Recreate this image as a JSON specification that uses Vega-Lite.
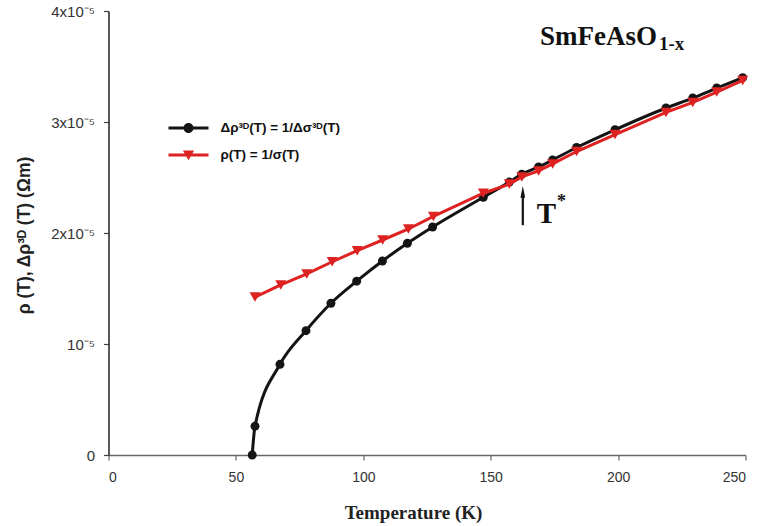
{
  "$schema": "https://vega.github.io/schema/vega-lite/v6.json",
  "autosize": {"type": "none"},
  "width": 637,
  "height": 444,
  "padding": {"left": 108.5, "top": 11, "right": 13.5, "bottom": 71},
  "background": "white",
  "config": {"view": {"stroke": null}},
  "datasets": {
    "curves": [
      {"T": 56.4, "rho": 0, "series": "Δρ³ᴰ(T) = 1/Δσ³ᴰ(T)"},
      {"T": 57.5, "rho": 0.26e-5, "series": "Δρ³ᴰ(T) = 1/Δσ³ᴰ(T)"},
      {"T": 67.3, "rho": 0.817e-5, "series": "Δρ³ᴰ(T) = 1/Δσ³ᴰ(T)"},
      {"T": 77.5, "rho": 1.12e-5, "series": "Δρ³ᴰ(T) = 1/Δσ³ᴰ(T)"},
      {"T": 87.3, "rho": 1.367e-5, "series": "Δρ³ᴰ(T) = 1/Δσ³ᴰ(T)"},
      {"T": 97.4, "rho": 1.566e-5, "series": "Δρ³ᴰ(T) = 1/Δσ³ᴰ(T)"},
      {"T": 107.5, "rho": 1.748e-5, "series": "Δρ³ᴰ(T) = 1/Δσ³ᴰ(T)"},
      {"T": 117.3, "rho": 1.907e-5, "series": "Δρ³ᴰ(T) = 1/Δσ³ᴰ(T)"},
      {"T": 127.2, "rho": 2.054e-5, "series": "Δρ³ᴰ(T) = 1/Δσ³ᴰ(T)"},
      {"T": 147.1, "rho": 2.322e-5, "series": "Δρ³ᴰ(T) = 1/Δσ³ᴰ(T)"},
      {"T": 157.3, "rho": 2.459e-5, "series": "Δρ³ᴰ(T) = 1/Δσ³ᴰ(T)"},
      {"T": 162.2, "rho": 2.53e-5, "series": "Δρ³ᴰ(T) = 1/Δσ³ᴰ(T)"},
      {"T": 168.8, "rho": 2.595e-5, "series": "Δρ³ᴰ(T) = 1/Δσ³ᴰ(T)"},
      {"T": 174.3, "rho": 2.658e-5, "series": "Δρ³ᴰ(T) = 1/Δσ³ᴰ(T)"},
      {"T": 183.7, "rho": 2.77e-5, "series": "Δρ³ᴰ(T) = 1/Δσ³ᴰ(T)"},
      {"T": 198.8, "rho": 2.93e-5, "series": "Δρ³ᴰ(T) = 1/Δσ³ᴰ(T)"},
      {"T": 218.8, "rho": 3.126e-5, "series": "Δρ³ᴰ(T) = 1/Δσ³ᴰ(T)"},
      {"T": 229.3, "rho": 3.216e-5, "series": "Δρ³ᴰ(T) = 1/Δσ³ᴰ(T)"},
      {"T": 238.7, "rho": 3.306e-5, "series": "Δρ³ᴰ(T) = 1/Δσ³ᴰ(T)"},
      {"T": 248.9, "rho": 3.40e-5, "series": "Δρ³ᴰ(T) = 1/Δσ³ᴰ(T)"},
      {"T": 57.5, "rho": 1.423e-5, "series": "ρ(T) = 1/σ(T)"},
      {"T": 67.6, "rho": 1.532e-5, "series": "ρ(T) = 1/σ(T)"},
      {"T": 77.8, "rho": 1.631e-5, "series": "ρ(T) = 1/σ(T)"},
      {"T": 87.8, "rho": 1.741e-5, "series": "ρ(T) = 1/σ(T)"},
      {"T": 97.6, "rho": 1.841e-5, "series": "ρ(T) = 1/σ(T)"},
      {"T": 107.6, "rho": 1.937e-5, "series": "ρ(T) = 1/σ(T)"},
      {"T": 117.7, "rho": 2.036e-5, "series": "ρ(T) = 1/σ(T)"},
      {"T": 127.5, "rho": 2.149e-5, "series": "ρ(T) = 1/σ(T)"},
      {"T": 147.1, "rho": 2.358e-5, "series": "ρ(T) = 1/σ(T)"},
      {"T": 157.3, "rho": 2.441e-5, "series": "ρ(T) = 1/σ(T)"},
      {"T": 162.2, "rho": 2.505e-5, "series": "ρ(T) = 1/σ(T)"},
      {"T": 168.8, "rho": 2.559e-5, "series": "ρ(T) = 1/σ(T)"},
      {"T": 174.3, "rho": 2.622e-5, "series": "ρ(T) = 1/σ(T)"},
      {"T": 183.7, "rho": 2.734e-5, "series": "ρ(T) = 1/σ(T)"},
      {"T": 198.8, "rho": 2.887e-5, "series": "ρ(T) = 1/σ(T)"},
      {"T": 218.8, "rho": 3.086e-5, "series": "ρ(T) = 1/σ(T)"},
      {"T": 229.3, "rho": 3.176e-5, "series": "ρ(T) = 1/σ(T)"},
      {"T": 238.7, "rho": 3.27e-5, "series": "ρ(T) = 1/σ(T)"},
      {"T": 248.9, "rho": 3.374e-5, "series": "ρ(T) = 1/σ(T)"}
    ]
  },
  "encoding": {
    "x": {
      "field": "T", "type": "quantitative",
      "scale": {"domain": [0, 250], "nice": false, "zero": false},
      "axis": {
        "title": "Temperature (K)",
        "values": [0, 50, 100, 150, 200, 250],
        "grid": false,
        "domainColor": "#666666", "domainWidth": 1.5,
        "tickColor": "#666666", "tickSize": 5, "tickWidth": 1.2,
        "labelFont": "Liberation Sans", "labelFontSize": 14, "labelColor": "#333333",
        "labelPadding": 10,
        "titleFont": "Liberation Serif", "titleFontSize": 19, "titleFontWeight": "bold", "titleColor": "#222222",
        "titleX": 304.5, "titleY": 63, "titleBaseline": "alphabetic", "titleAnchor": "middle", "titleAlign": "center"
      }
    },
    "y": {
      "field": "rho", "type": "quantitative",
      "scale": {"domain": [0, 4e-5], "nice": false, "zero": false},
      "axis": {
        "title": "ρ (T), Δρ³ᴰ (T) (Ωm)",
        "values": [0, 1e-5, 2e-5, 3e-5, 4e-5],
        "labelExpr": "round(datum.value*1e5) == 0 ? '0' : (round(datum.value*1e5) == 1 ? '10⁻⁵' : round(datum.value*1e5) + 'x10⁻⁵')",
        "grid": false,
        "domainColor": "#222222", "domainWidth": 1.5,
        "tickColor": "#444444", "tickSize": 5, "tickWidth": 1.2,
        "labelFont": "Liberation Sans", "labelFontSize": 15, "labelColor": "#333333",
        "labelPadding": 9,
        "titleFont": "Liberation Sans", "titleFontSize": 17.5, "titleFontWeight": "bold", "titleColor": "#222222",
        "titleX": -75, "titleY": 224, "titleBaseline": "bottom", "titleAngle": -90
      }
    }
  },
  "layer": [
    {
      "data": {"name": "curves"},
      "transform": [{"filter": "datum.T < 0"}],
      "mark": {"type": "point", "filled": true, "opacity": 1, "strokeWidth": 0},
      "encoding": {
        "color": {"field": "series", "type": "nominal",
          "scale": {"domain": ["Δρ³ᴰ(T) = 1/Δσ³ᴰ(T)", "ρ(T) = 1/σ(T)"], "range": ["#141414", "#de2222"]},
          "legend": {
            "title": null, "orient": "none", "legendX": 60, "legendY": 97, "padding": 0,
            "labelFont": "Liberation Sans", "labelFontSize": 13.5, "labelFontWeight": "bold", "labelColor": "#111111",
            "labelOffset": 12, "rowPadding": -8, "symbolSize": 1600, "symbolStrokeWidth": 0
          }
        },
        "shape": {"field": "series", "type": "nominal",
          "scale": {"domain": ["Δρ³ᴰ(T) = 1/Δσ³ᴰ(T)", "ρ(T) = 1/σ(T)"],
            "range": ["M-1,-0.075L1,-0.075L1,0.075L-1,0.075Z M-0.25,0A0.25,0.25,0,1,1,0.25,0A0.25,0.25,0,1,1,-0.25,0Z",
                      "M-1,-0.075L1,-0.075L1,0.075L-1,0.075Z M-0.28,-0.22L0.28,-0.22L0,0.26Z"]}
        }
      }
    },
    {
      "data": {"name": "curves"},
      "transform": [{"filter": "datum.series === 'Δρ³ᴰ(T) = 1/Δσ³ᴰ(T)'"}],
      "mark": {"type": "line", "interpolate": "monotone", "strokeWidth": 3, "color": "#141414"},
      "encoding": {}
    },
    {
      "data": {"name": "curves"},
      "transform": [{"filter": "datum.series === 'Δρ³ᴰ(T) = 1/Δσ³ᴰ(T)'"}],
      "mark": {"type": "point", "filled": true, "opacity": 1, "size": 80, "strokeWidth": 0, "shape": "circle", "color": "#141414"},
      "encoding": {}
    },
    {
      "data": {"name": "curves"},
      "transform": [{"filter": "datum.series === 'ρ(T) = 1/σ(T)'"}],
      "mark": {"type": "line", "interpolate": "linear", "strokeWidth": 3, "color": "#de2222"},
      "encoding": {}
    },
    {
      "data": {"name": "curves"},
      "transform": [{"filter": "datum.series === 'ρ(T) = 1/σ(T)'"}],
      "mark": {"type": "point", "filled": true, "opacity": 1, "size": 120, "strokeWidth": 0, "shape": "triangle-down", "color": "#de2222"},
      "encoding": {}
    },
    {
      "data": {"values": [{"T": 162.6, "rho": 2.07e-5, "rho2": 2.33e-5}]},
      "mark": {"type": "rule", "strokeWidth": 2.2, "color": "#111111"},
      "encoding": {"y2": {"field": "rho2"}}
    },
    {
      "data": {"values": [{"T": 162.6, "rho": 2.37e-5}]},
      "mark": {"type": "point", "filled": true, "opacity": 1, "size": 140, "strokeWidth": 0, "color": "#111111",
        "shape": "M0,-1L0.4,1L-0.4,1Z"},
      "encoding": {}
    },
    {
      "data": {"values": [{"T": 168.05, "rho": 2.09e-5, "label": "T"}]},
      "mark": {"type": "text", "font": "Liberation Serif", "fontWeight": "bold", "fontSize": 29, "align": "left", "baseline": "alphabetic", "color": "#111111"},
      "encoding": {"text": {"field": "label"}}
    },
    {
      "data": {"values": [{"T": 176.0, "rho": 2.279e-5, "label": "*"}]},
      "mark": {"type": "text", "font": "Liberation Serif", "fontWeight": "bold", "fontSize": 18, "align": "left", "baseline": "middle", "color": "#111111"},
      "encoding": {"text": {"field": "label"}}
    },
    {
      "data": {"values": [{"T": 169.35, "rho": 3.694e-5, "label": "SmFeAsO"}]},
      "mark": {"type": "text", "font": "Liberation Serif", "fontWeight": "bold", "fontSize": 27, "align": "left", "baseline": "alphabetic", "color": "#111111"},
      "encoding": {"text": {"field": "label"}}
    },
    {
      "data": {"values": [{"T": 216.05, "rho": 3.649e-5, "label": "1-x"}]},
      "mark": {"type": "text", "font": "Liberation Serif", "fontWeight": "bold", "fontSize": 19, "align": "left", "baseline": "alphabetic", "color": "#111111"},
      "encoding": {"text": {"field": "label"}}
    }
  ]
}
